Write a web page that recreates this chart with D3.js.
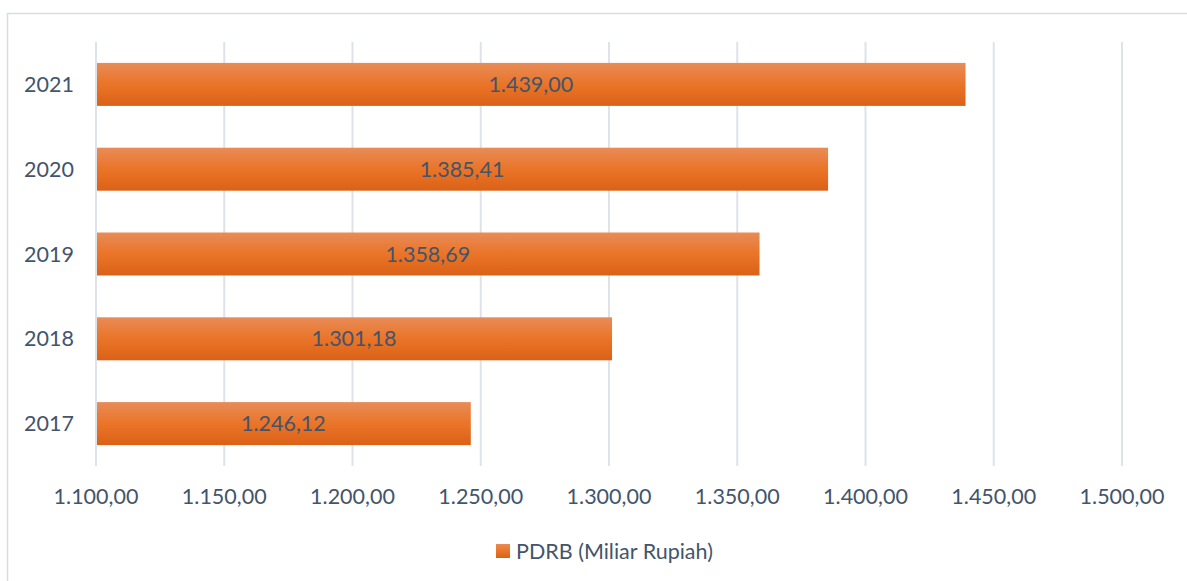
<!DOCTYPE html>
<html>
<head>
<meta charset="utf-8">
<script src="https://cdn.jsdelivr.net/npm/d3@7"></script>
<style>
  body { margin: 0; background: #fff; }
  svg text { font-family: Lato, "Open Sans", sans-serif; fill: #44546A; }
</style>
</head>
<body>
<script>
const years = ["2017", "2018", "2019", "2020", "2021"];
const pdrb = [1246.12, 1301.18, 1358.69, 1385.41, 1439.00];
const ticks = [1100, 1150, 1200, 1250, 1300, 1350, 1400, 1450, 1500];
const seriesName = "PDRB (Miliar Rupiah)";

const w = 1187;
const h = 581;

const m = {
  top: 42,
  right: 65,
  bottom: 115,
  left: 96 };

const fs = 21.5;

// 1.234,56 style
const fmt = v => d3.format(",.2f")(v).replace(/,/g, "#").replace(".", ",").replace(/#/g, ".");

const svg = d3.select("body").
append("svg").
attr("width", w).
attr("height", h);

// bar gradient
const grad = svg.append("defs").
append("linearGradient").
attr("id", "barGrad").
attr("x1", 0).attr("y1", 0).attr("x2", 0).attr("y2", 1);
grad.append("stop").attr("offset", "0%").attr("stop-color", "#E88C57");
grad.append("stop").attr("offset", "50%").attr("stop-color", "#EA7428");
grad.append("stop").attr("offset", "100%").attr("stop-color", "#DA6218");

// chart border
svg.append("rect").
attr("x", 7.5).
attr("y", 13.5).
attr("width", w + 20).
attr("height", h + 20).
attr("fill", "none").
attr("stroke", "#D9DDE3").
attr("stroke-width", 1.5);

const x = d3.scaleLinear().
domain([1100, 1500]).
range([m.left, w - m.right]);

const y = d3.scaleBand().
domain(years.slice().reverse()).
range([m.top, h - m.bottom]).
paddingInner(0.493).
paddingOuter(0.2465);

// gridlines
svg.append("g").
selectAll("line").
data(ticks).
enter().
append("line").
attr("x1", d => x(d)).
attr("x2", d => x(d)).
attr("y1", m.top).
attr("y2", h - m.bottom).
attr("stroke", "#DEE3EA").
attr("stroke-width", 2);

// x tick labels
svg.append("g").
selectAll("text").
data(ticks).
enter().
append("text").
attr("x", d => x(d)).
attr("y", 504).
attr("text-anchor", "middle").
attr("font-size", fs).
text(d => fmt(d));

// y labels
svg.append("g").
selectAll("text").
data(years).
enter().
append("text").
attr("x", 49).
attr("y", d => y(d) + y.bandwidth() / 2).
attr("dy", "0.35em").
attr("text-anchor", "middle").
attr("font-size", fs).
text(d => d);

// bars
const rows = years.map((yr, i) => ({ year: yr, value: pdrb[i] }));

svg.append("g").
selectAll("rect").
data(rows).
enter().
append("rect").
attr("x", x(1100) + 1).
attr("y", d => y(d.year)).
attr("width", d => x(d.value) - x(1100) - 1).
attr("height", y.bandwidth()).
attr("fill", "url(#barGrad)");

// value labels
svg.append("g").
selectAll("text").
data(rows).
enter().
append("text").
attr("x", d => (x(1100) + x(d.value)) / 2).
attr("y", d => y(d.year) + y.bandwidth() / 2).
attr("dy", "0.35em").
attr("text-anchor", "middle").
attr("font-size", fs).
text(d => fmt(d.value));

// legend
const legend = svg.append("g").
attr("transform", "translate(496, 544)");

legend.append("rect").
attr("width", 14).
attr("height", 14).
attr("fill", "url(#barGrad)");

legend.append("text").
attr("x", 20).
attr("y", 7).
attr("dy", "0.35em").
attr("font-size", fs).
text(seriesName);
</script>
</body>
</html>
